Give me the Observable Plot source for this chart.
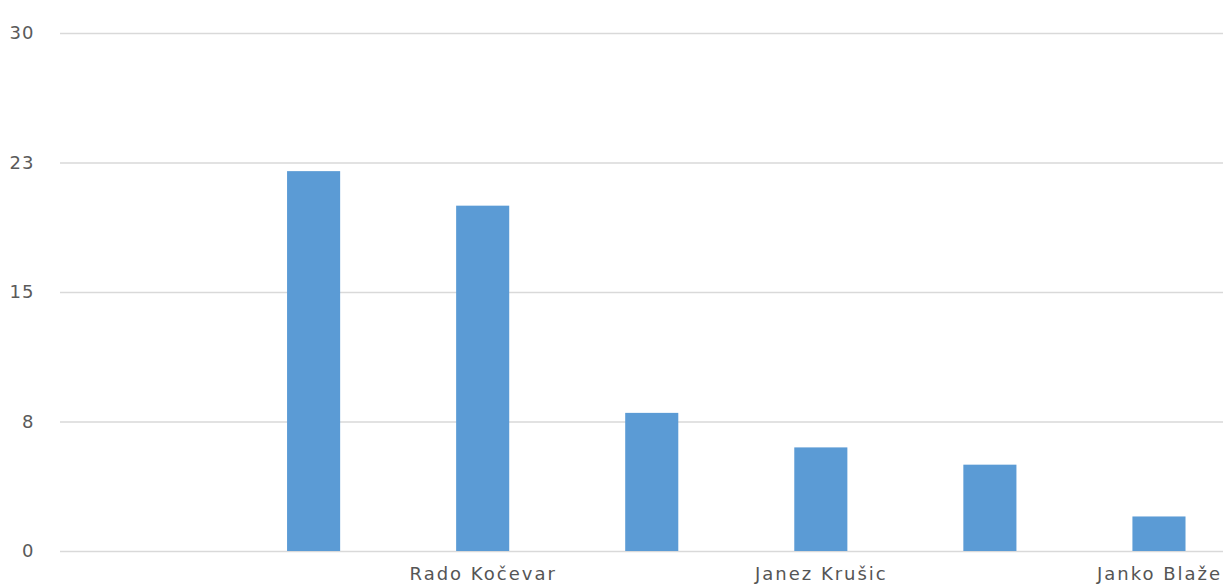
<!DOCTYPE html>
<html>
<head>
<meta charset="utf-8">
<script src="https://cdn.jsdelivr.net/npm/d3@7"></script>
<script src="https://cdn.jsdelivr.net/npm/@observablehq/plot@0.6"></script>
<style>
  html, body { margin: 0; padding: 0; background: #fff; overflow: hidden; }
  #chart svg { max-width: none !important; display: block; }
  g[aria-label="x-axis tick label"] text { letter-spacing: 2px; }
  g[aria-label="y-axis tick label"] text { letter-spacing: 1px; }
</style>
</head>
<body>
<div id="chart"></div>
<script>
// Category slots (only every other label is shown in the reference)
const slots = [0, 1, 2, 3, 4, 5, 6];
const labels = ["", "", "Rado Kočevar", "", "Janez Krušic", "", "Janko Blaže"];
const values = [null, 22, 20, 8, 6, 5, 2];
const yTicks = [0, 7.5, 15, 22.5, 30];

const data = slots.map((s, i) => ({slot: s, value: values[i]})).filter(d => d.value != null);

const chart = Plot.plot({
  width: 1250,
  height: 585,
  marginLeft: 60,
  marginRight: 6.5,
  marginTop: 33,
  marginBottom: 34,
  style: {fontFamily: "'DejaVu Sans', sans-serif", background: "#fff", maxWidth: "none"},
  x: {
    domain: slots,
    paddingInner: 0.686,
    paddingOuter: 0.343,
    round: false,
    label: null,
    tickSize: 0,
    tickPadding: 16,
    tickFormat: i => labels[i]
  },
  y: {
    domain: [0, 30],
    ticks: yTicks,
    tickFormat: d => String(Math.round(d)),
    label: null,
    tickSize: 0,
    tickPadding: 26
  },
  marks: [
    Plot.ruleY(yTicks, {stroke: "#d9d9d9", strokeWidth: 1.5}),
    Plot.barY(data, {x: "slot", y: "value", fill: "#5b9bd5"}),
    Plot.axisX({tickSize: 0, tickPadding: 16, fontSize: 18, fill: "#555", tickFormat: i => labels[i], label: null}),
    Plot.axisY({ticks: yTicks, tickSize: 0, tickPadding: 26, fontSize: 18, fill: "#5a5a5a", tickFormat: d => String(Math.round(d)), label: null})
  ]
});
document.getElementById("chart").appendChild(chart);
</script>
</body>
</html>
